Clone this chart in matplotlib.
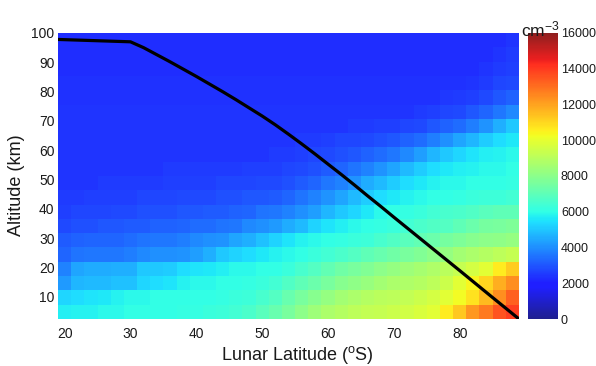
import numpy as np
import matplotlib
matplotlib.use("Agg")
import matplotlib.pyplot as plt
from matplotlib.colors import ListedColormap

plt.rcParams['font.family'] = ['Liberation Sans', 'DejaVu Sans']
plt.rcParams['mathtext.fontset'] = 'custom'
plt.rcParams['mathtext.rm'] = 'Liberation Sans'
plt.rcParams['mathtext.it'] = 'Liberation Sans:italic'

# Grid cell edges: lunar latitude (deg S) and altitude (km)
lat_edges = [19, 21, 23, 25, 27, 29, 31, 33, 35, 37, 39, 41, 43, 45, 47, 49, 51, 53,
             55, 57, 59, 61, 63, 65, 67, 69, 71, 73, 75, 77, 79, 81, 83, 85, 87, 89]
alt_edges = [2.5, 7.4, 12.25, 17.1, 22.0, 26.9, 31.75, 36.6, 41.5, 46.4, 51.25,
             56.1, 61.0, 65.9, 70.75, 75.6, 80.5, 85.4, 90.25, 95.1, 100.0]

# Number density in units of 1000 cm^-3; rows run from the lowest altitude upward,
# columns follow lat_edges (cell centres 20, 22, ..., 88 deg S)
density_k = [
    [5.7, 5.8, 5.8, 5.9, 5.9, 6.0, 6.0, 6.0, 6.0, 6.1, 6.1, 6.2, 6.3, 6.4, 6.6, 6.9, 7.2, 7.6,
     8.0, 8.4, 8.7, 8.9, 9.1, 9.2, 9.3, 9.4, 9.5, 9.7, 9.9, 10.6, 11.3, 12.2, 12.8, 13.5, 13.9],
    [5.3, 5.4, 5.5, 5.6, 5.8, 5.9, 5.9, 6.0, 6.0, 6.0, 6.0, 6.0, 6.1, 6.2, 6.3, 6.5, 6.8, 7.2,
     7.6, 7.9, 8.2, 8.5, 8.7, 8.9, 9.0, 9.1, 9.2, 9.4, 9.6, 9.9, 10.3, 10.8, 11.5, 12.4, 13.3],
    [4.2, 4.7, 4.8, 4.8, 4.9, 4.9, 5.3, 5.4, 5.5, 5.8, 5.9, 5.9, 6.0, 6.0, 6.1, 6.2, 6.4, 6.7,
     7.0, 7.3, 7.6, 7.9, 8.1, 8.3, 8.5, 8.7, 8.8, 8.9, 9.1, 9.4, 9.9, 10.4, 11.0, 11.8, 12.4],
    [3.8, 4.4, 4.5, 4.5, 4.6, 4.6, 5.0, 5.0, 5.1, 5.4, 5.5, 5.6, 5.7, 5.9, 5.9, 6.0, 6.0, 6.2,
     6.5, 6.8, 7.1, 7.4, 7.6, 7.8, 8.0, 8.2, 8.4, 8.6, 8.8, 9.0, 9.3, 9.6, 9.9, 10.6, 11.2],
    [3.3, 3.5, 3.6, 3.6, 3.6, 3.7, 3.9, 4.0, 4.0, 4.1, 4.3, 4.6, 5.0, 5.2, 5.4, 5.6, 5.8, 5.9,
     6.0, 6.2, 6.4, 6.6, 6.8, 7.0, 7.2, 7.4, 7.6, 7.8, 8.0, 8.2, 8.5, 8.7, 8.9, 9.1, 9.3],
    [3.1, 3.2, 3.3, 3.3, 3.3, 3.4, 3.5, 3.6, 3.6, 3.7, 3.9, 4.0, 4.1, 4.4, 4.6, 4.9, 5.2, 5.5,
     5.8, 5.9, 6.0, 6.1, 6.2, 6.3, 6.5, 6.7, 6.9, 7.1, 7.3, 7.5, 7.7, 7.9, 8.0, 8.1, 8.2],
    [2.8, 2.9, 2.9, 3.0, 3.0, 3.1, 3.1, 3.2, 3.2, 3.3, 3.4, 3.4, 3.5, 3.6, 3.9, 4.0, 4.2, 4.5,
     4.8, 5.2, 5.5, 5.7, 5.9, 6.0, 6.1, 6.2, 6.4, 6.6, 6.7, 6.8, 7.0, 7.3, 7.5, 7.6, 7.7],
    [2.6, 2.7, 2.7, 2.7, 2.8, 2.8, 2.9, 2.9, 2.9, 3.0, 3.0, 3.1, 3.1, 3.2, 3.3, 3.5, 3.6, 3.8,
     4.0, 4.3, 4.7, 5.0, 5.3, 5.6, 5.9, 6.0, 6.1, 6.2, 6.4, 6.5, 6.6, 6.7, 6.9, 7.0, 7.0],
    [2.5, 2.5, 2.6, 2.6, 2.6, 2.6, 2.7, 2.7, 2.7, 2.8, 2.8, 2.8, 2.9, 2.9, 3.0, 3.0, 3.1, 3.3,
     3.5, 3.8, 4.1, 4.4, 4.8, 5.1, 5.4, 5.6, 5.8, 5.9, 6.0, 6.0, 6.1, 6.2, 6.3, 6.3, 6.4],
    [2.4, 2.4, 2.4, 2.5, 2.5, 2.5, 2.5, 2.5, 2.6, 2.6, 2.6, 2.6, 2.7, 2.7, 2.7, 2.8, 2.8, 2.9,
     3.1, 3.3, 3.6, 3.8, 4.1, 4.5, 4.8, 5.1, 5.4, 5.6, 5.8, 5.9, 5.9, 6.0, 6.0, 6.0, 6.1],
    [2.4, 2.4, 2.4, 2.4, 2.4, 2.4, 2.4, 2.4, 2.5, 2.5, 2.5, 2.5, 2.5, 2.5, 2.6, 2.6, 2.6, 2.7,
     2.8, 2.9, 3.1, 3.3, 3.5, 3.8, 4.1, 4.4, 4.8, 5.1, 5.4, 5.6, 5.7, 5.8, 5.9, 5.9, 6.0],
    [2.4, 2.4, 2.4, 2.4, 2.4, 2.4, 2.4, 2.4, 2.4, 2.4, 2.4, 2.4, 2.4, 2.4, 2.4, 2.4, 2.5, 2.5,
     2.6, 2.7, 2.8, 2.9, 3.0, 3.2, 3.4, 3.6, 3.9, 4.3, 4.7, 5.0, 5.3, 5.5, 5.7, 5.8, 5.9],
    [2.4, 2.4, 2.4, 2.4, 2.4, 2.4, 2.4, 2.4, 2.4, 2.4, 2.4, 2.4, 2.4, 2.4, 2.4, 2.4, 2.4, 2.4,
     2.5, 2.5, 2.6, 2.7, 2.7, 2.8, 2.9, 3.0, 3.2, 3.4, 3.7, 4.0, 4.4, 4.7, 5.1, 5.4, 5.6],
    [2.4, 2.4, 2.4, 2.4, 2.4, 2.4, 2.4, 2.4, 2.4, 2.4, 2.4, 2.4, 2.4, 2.4, 2.4, 2.4, 2.4, 2.4,
     2.4, 2.4, 2.4, 2.4, 2.5, 2.5, 2.6, 2.6, 2.7, 2.8, 3.0, 3.2, 3.4, 3.7, 4.1, 4.6, 5.0],
    [2.4, 2.4, 2.4, 2.4, 2.4, 2.4, 2.4, 2.4, 2.4, 2.4, 2.4, 2.4, 2.4, 2.4, 2.4, 2.4, 2.4, 2.4,
     2.4, 2.4, 2.4, 2.4, 2.4, 2.4, 2.4, 2.4, 2.4, 2.5, 2.6, 2.7, 2.8, 3.0, 3.3, 3.6, 3.9],
    [2.35, 2.35, 2.35, 2.35, 2.35, 2.35, 2.35, 2.35, 2.35, 2.35, 2.35, 2.35, 2.35, 2.35, 2.35,
     2.35, 2.35, 2.35, 2.35, 2.35, 2.35, 2.35, 2.35, 2.35, 2.35, 2.35, 2.35, 2.35, 2.35, 2.45,
     2.5, 2.6, 2.8, 3.0, 3.2],
    [2.35, 2.35, 2.35, 2.35, 2.35, 2.35, 2.35, 2.35, 2.35, 2.35, 2.35, 2.35, 2.35, 2.35, 2.35,
     2.35, 2.35, 2.35, 2.35, 2.35, 2.35, 2.35, 2.35, 2.35, 2.35, 2.35, 2.35, 2.35, 2.35, 2.35,
     2.35, 2.4, 2.5, 2.7, 2.8],
    [2.3, 2.3, 2.3, 2.3, 2.3, 2.3, 2.3, 2.3, 2.3, 2.3, 2.3, 2.3, 2.3, 2.3, 2.3, 2.3, 2.3, 2.3,
     2.3, 2.3, 2.3, 2.3, 2.3, 2.3, 2.3, 2.3, 2.3, 2.3, 2.3, 2.3, 2.3, 2.3, 2.4, 2.5, 2.6],
    [2.3, 2.3, 2.3, 2.3, 2.3, 2.3, 2.3, 2.3, 2.3, 2.3, 2.3, 2.3, 2.3, 2.3, 2.3, 2.3, 2.3, 2.3,
     2.3, 2.3, 2.3, 2.3, 2.3, 2.3, 2.3, 2.3, 2.3, 2.3, 2.3, 2.3, 2.3, 2.3, 2.3, 2.4, 2.5],
    [2.25, 2.25, 2.25, 2.25, 2.25, 2.25, 2.25, 2.25, 2.25, 2.25, 2.25, 2.25, 2.25, 2.25, 2.25,
     2.25, 2.25, 2.25, 2.25, 2.25, 2.25, 2.25, 2.25, 2.25, 2.25, 2.25, 2.25, 2.25, 2.25, 2.25,
     2.25, 2.25, 2.25, 2.25, 2.4],
]

# Black curve across the map: latitude (deg S) and altitude (km)
curve_lat = [19, 30, 32, 34, 36, 38, 40, 42, 44, 46, 48, 50, 52, 54, 56, 58, 60, 62,
             64, 66, 68, 70, 75, 80, 85, 89]
curve_alt = [97.8, 97.0, 95.0, 92.6, 90.2, 87.7, 85.2, 82.6, 80.0, 77.3, 74.5, 71.7, 68.7,
             65.5, 62.2, 58.8, 55.3, 51.8, 48.2, 44.5, 40.9, 37.2, 28.1, 19.0, 9.8, 2.5]

x_ticks = [20, 30, 40, 50, 60, 70, 80]
y_ticks = [10, 20, 30, 40, 50, 60, 70, 80, 90, 100]
cbar_ticks = [0, 2000, 4000, 6000, 8000, 10000, 12000, 14000, 16000]

# Jet colour scale, slightly washed toward white
jet = plt.get_cmap('jet')(np.linspace(0, 1, 256))
jet[:, :3] = jet[:, :3] * 0.88 + 0.12
soft_jet = ListedColormap(jet, name='soft_jet')

text_color = '#1a1a1a'

fig = plt.figure(figsize=(5.96, 3.66), dpi=100)
ax = fig.add_axes([58 / 596, 1 - 319 / 366, 461 / 596, 286 / 366])

density = np.array(density_k) * 1000.0
mesh = ax.pcolormesh(lat_edges, alt_edges, density, cmap=soft_jet, vmin=0, vmax=16000,
                     shading='flat', antialiased=False)
ax.plot(curve_lat, curve_alt, color='black', lw=2.3, solid_joinstyle='round',
        solid_capstyle='butt')

ax.set_xlim(19, 89)
ax.set_ylim(2.5, 100)
ax.set_xticks(x_ticks)
ax.set_yticks(y_ticks)
ax.tick_params(axis='both', length=0, labelsize=10, colors=text_color)
ax.tick_params(axis='x', pad=6)
ax.tick_params(axis='y', pad=2.5)
for spine in ax.spines.values():
    spine.set_visible(False)

fig.text(297 / 596, 1 - 355 / 366, r'Lunar Latitude ($^{\mathrm{o}}$S)', fontsize=13,
         ha='center', va='center', color=text_color)
fig.text(17 / 596, 1 - 185 / 366, 'Altitude (km)', fontsize=13, rotation=90,
         ha='center', va='center', color=text_color)

cax = fig.add_axes([527.5 / 596, 1 - 319 / 366, 30 / 596, 286 / 366])
cb = fig.colorbar(mesh, cax=cax, ticks=cbar_ticks)
cb.outline.set_visible(False)
cax.tick_params(length=0, labelsize=9, pad=2.5, colors=text_color)

fig.text(521 / 596, 1 - 29 / 366, r'cm$^{-3}$', fontsize=12.5, ha='left', va='center',
         color=text_color)

fig.savefig('out.png', dpi=100)
